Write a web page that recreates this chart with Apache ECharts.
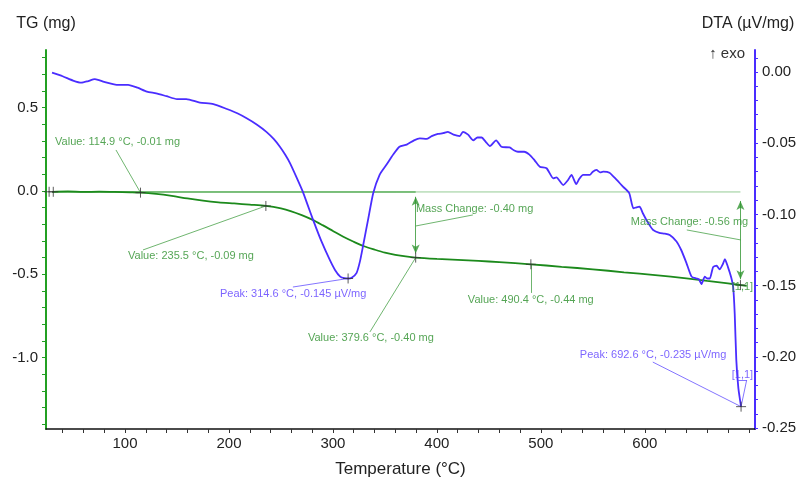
<!DOCTYPE html>
<html>
<head>
<meta charset="utf-8">
<script src="https://cdn.jsdelivr.net/npm/echarts@6/dist/echarts.min.js"></script>
<style>
  html, body { margin: 0; padding: 0; background: #fff; }
  #main { width: 798px; height: 477px; }
</style>
</head>
<body>
<div id="main"></div>
<script>
// TG 曲线 (mg)
var tgTemp = [30, 45, 60, 75, 90, 105, 114.9, 130, 145, 160, 175, 190, 205, 220, 235.5, 250, 260, 270, 280, 290, 300, 310, 320, 330, 340, 350, 360, 370, 379.6, 400, 420, 440, 460, 490.4, 520, 550, 580, 610, 640, 660, 680, 698];
var tgMass = [-0.005, -0.003, -0.006, -0.004, -0.006, -0.008, -0.01, -0.018, -0.03, -0.045, -0.058, -0.068, -0.075, -0.082, -0.09, -0.105, -0.122, -0.145, -0.172, -0.205, -0.24, -0.275, -0.305, -0.332, -0.352, -0.37, -0.383, -0.393, -0.40, -0.408, -0.414, -0.42, -0.427, -0.44, -0.455, -0.47, -0.488, -0.505, -0.525, -0.54, -0.555, -0.57];

// DTA 曲线 (µV/mg)
var dtaTemp = [29.8, 40, 50, 58, 64, 71, 80, 92, 103, 112, 121, 130, 140, 150, 159, 172, 185, 198, 208, 217, 227, 236, 243, 249, 254, 258.7, 265, 271, 276, 281, 289, 297, 302, 307, 311, 314.6, 318, 322.8, 326, 329, 334, 338.8, 345, 351.6, 358, 364, 371, 378, 383.6, 390, 395, 401, 406, 410.6, 416, 422, 425, 430, 435, 439, 443, 447, 451, 457, 462, 470, 474, 478, 484, 489, 494, 499, 505.5, 512, 515, 521.5, 526, 529.5, 534, 537, 540.7, 547, 550, 553.5, 557, 560, 566, 573, 579, 585, 589, 592, 595, 598, 601.6, 605, 608, 614, 619, 624, 630.5, 635, 640, 645, 649.7, 652, 654.5, 657.7, 660, 662.5, 665.7, 669, 672, 675, 677, 680, 683, 685, 686.5, 688, 690, 692.6];
var dtaSignal = [-0.0005, -0.003, -0.006, -0.0075, -0.0065, -0.005, -0.007, -0.009, -0.009, -0.011, -0.0138, -0.015, -0.017, -0.019, -0.019, -0.0215, -0.0225, -0.026, -0.029, -0.0325, -0.037, -0.042, -0.047, -0.0525, -0.058, -0.064, -0.074, -0.084, -0.094, -0.104, -0.119, -0.132, -0.139, -0.1437, -0.1448, -0.145, -0.1445, -0.141, -0.133, -0.122, -0.103, -0.085, -0.072, -0.065, -0.058, -0.0525, -0.051, -0.048, -0.0466, -0.047, -0.045, -0.0435, -0.043, -0.042, -0.044, -0.045, -0.042, -0.044, -0.048, -0.046, -0.046, -0.049, -0.052, -0.048, -0.0525, -0.053, -0.055, -0.056, -0.056, -0.058, -0.062, -0.0665, -0.0676, -0.0747, -0.074, -0.0794, -0.076, -0.0723, -0.0787, -0.075, -0.0723, -0.0723, -0.070, -0.0688, -0.0705, -0.070, -0.0707, -0.0758, -0.0805, -0.085, -0.0957, -0.095, -0.0946, -0.099, -0.104, -0.108, -0.111, -0.113, -0.1135, -0.1145, -0.119, -0.125, -0.134, -0.1437, -0.145, -0.1455, -0.149, -0.1437, -0.145, -0.145, -0.137, -0.136, -0.1386, -0.135, -0.1315, -0.137, -0.144, -0.151, -0.170, -0.202, -0.222, -0.235];

// 刻度
var xTicks = [40, 60, 80, 100, 120, 140, 160, 180, 200, 220, 240, 260, 280, 300, 320, 340, 360, 380, 400, 420, 440, 460, 480, 500, 520, 540, 560, 580, 600, 620, 640, 660, 680, 700];
var xLabels = [100, 200, 300, 400, 500, 600];
var tgTicks = [-1.4, -1.3, -1.2, -1.1, -1.0, -0.9, -0.8, -0.7, -0.6, -0.5, -0.4, -0.3, -0.2, -0.1, 0, 0.1, 0.2, 0.3, 0.4, 0.5, 0.6, 0.7, 0.8];
var tgLabels = [-1.0, -0.5, 0, 0.5];
var dtaTicks = [-0.25, -0.24, -0.23, -0.22, -0.21, -0.2, -0.19, -0.18, -0.17, -0.16, -0.15, -0.14, -0.13, -0.12, -0.11, -0.1, -0.09, -0.08, -0.07, -0.06, -0.05, -0.04, -0.03, -0.02, -0.01, 0, 0.01];
var dtaLabels = [-0.25, -0.2, -0.15, -0.1, -0.05, 0];

// 标注 (TG 轴)
var baseline = -0.006;
var step1End = 379.6;
var step2End = 692;
var tgNoteText = ['Value: 114.9 °C, -0.01 mg', 'Value: 235.5 °C, -0.09 mg', 'Value: 379.6 °C, -0.40 mg', 'Mass Change: -0.40 mg', 'Value: 490.4 °C, -0.44 mg', 'Mass Change: -0.56 mg', '[1,1]'];
var tgNoteAt = [[32.7, 0.294], [102.9, -0.39], [276, -0.882], [379.8, -0.108], [429.8, -0.654], [586.5, -0.186], [683.6, -0.576]];
var tgLeaders = [
  [[91.3, 0.246], [114.9, -0.01]],
  [[117.3, -0.354], [235.5, -0.09]],
  [[335.6, -0.846], [379.6, -0.40]],
  [[379.8, -0.21], [434.6, -0.144]],
  [[490.4, -0.612], [490.4, -0.44]],
  [[640.4, -0.234], [692.3, -0.294]]
];
var tgCross = [[27, -0.005], [31, -0.005], [114.9, -0.01], [235.5, -0.09], [379.6, -0.40], [490.4, -0.44], [692, -0.565]];

// 标注 (DTA 轴)
var dtaNoteText = ['Peak: 314.6 °C, -0.145 µV/mg', 'Peak: 692.6 °C, -0.235 µV/mg', '[1,1]'];
var dtaNoteAt = [[191.3, -0.1559], [537.5, -0.1987], [683.6, -0.2128]];
var dtaLeaders = [
  [[261.5, -0.151], [314.6, -0.145]],
  [[607.7, -0.2037], [692.6, -0.235]],
  [[692.6, -0.235], [698, -0.2163]],
  [[689.4, -0.2163], [698, -0.2163]]
];
var dtaCross = [[314.6, -0.145], [692.6, -0.235]];

var GREEN = '#1c8a1c';
var NOTE_GREEN = '#2a8f2a';
var BLUE = '#4a2dff';
var FONT = 'Liberation Sans';

var myChart = echarts.init(document.getElementById('main'));

function pairs(xs, ys) {
  return xs.map(function (x, i) { return [x, ys[i]]; });
}
function noteData(texts, at) {
  return texts.map(function (t, i) { return { value: at[i], name: t }; });
}
function leaderData(list) {
  return list.map(function (s) { return [{ coord: s[0] }, { coord: s[1] }]; });
}

var crossPath = 'path://M0,5L10,5M5,0L5,10';

var option = {
  animation: false,
  textStyle: { fontFamily: FONT },
  grid: { left: 46, right: 43, top: 50, bottom: 48, outerBoundsMode: 'none' },
  graphic: [{
    type: 'text',
    right: 53,
    top: 46,
    style: { text: '↑ exo', font: '15px ' + FONT, fill: '#333' }
  }],
  xAxis: {
    type: 'value',
    min: 24,
    max: 706,
    name: 'Temperature (°C)',
    nameLocation: 'middle',
    nameGap: 32,
    nameTextStyle: { fontSize: 17, color: '#222', fontFamily: FONT },
    axisLine: { onZero: false, lineStyle: { color: '#111', width: 1.5 } },
    axisTick: { customValues: xTicks, length: 4, lineStyle: { color: '#333' } },
    axisLabel: { customValues: xLabels, fontSize: 15, color: '#222', margin: 7 },
    splitLine: { show: false }
  },
  yAxis: [
    {
      type: 'value',
      position: 'left',
      min: -1.4286,
      max: 0.846,
      name: 'TG (mg)',
      nameGap: 18,
      nameTextStyle: { fontSize: 16, color: '#222', fontFamily: FONT },
      axisLine: { show: true, onZero: false, lineStyle: { color: '#23a023', width: 2 } },
      axisTick: { show: true, customValues: tgTicks, length: 4, lineStyle: { color: '#23a023' } },
      axisLabel: {
        customValues: tgLabels, fontSize: 15, color: '#222', margin: 8,
        formatter: function (v) { return v.toFixed(1); }
      },
      splitLine: { show: false }
    },
    {
      type: 'value',
      position: 'right',
      min: -0.2507,
      max: 0.01545,
      name: 'DTA (µV/mg)',
      nameGap: 18,
      nameTextStyle: { fontSize: 16, color: '#222', fontFamily: FONT, padding: [0, 14, 0, 0] },
      axisLine: { show: true, onZero: false, lineStyle: { color: BLUE, width: 2 } },
      axisTick: { show: true, customValues: dtaTicks, length: 3, lineStyle: { color: BLUE } },
      axisLabel: {
        customValues: dtaLabels, fontSize: 15, color: '#222', margin: 7,
        formatter: function (v) { return v.toFixed(2); }
      },
      splitLine: { show: false }
    }
  ],
  series: [
    // 质量变化基线
    {
      name: 'base1',
      type: 'line',
      yAxisIndex: 0,
      showSymbol: false,
      data: [[tgTemp[0], baseline], [step1End, baseline]],
      lineStyle: { color: 'rgba(60,160,60,0.55)', width: 2 },
      z: 1,
      markLine: {
        silent: true,
        symbol: 'none',
        label: { show: false },
        lineStyle: { color: 'rgba(50,150,50,0.7)', width: 1, type: 'solid' },
        data: leaderData(tgLeaders)
      }
    },
    {
      name: 'base2',
      type: 'line',
      yAxisIndex: 0,
      showSymbol: false,
      data: [[tgTemp[0], baseline], [step2End, baseline]],
      lineStyle: { color: 'rgba(60,160,60,0.55)', width: 1 },
      z: 1,
      markLine: {
        silent: true,
        symbol: ['arrow', 'arrow'],
        symbolSize: [6, 9],
        label: { show: false },
        lineStyle: { color: 'rgba(50,150,50,0.8)', width: 1, type: 'solid' },
        data: [
          [{ coord: [step1End, -0.035] }, { coord: [step1End, -0.375] }],
          [{ coord: [step2End, -0.06] }, { coord: [step2End, -0.53] }]
        ]
      }
    },
    // TG
    {
      name: 'TG',
      type: 'line',
      yAxisIndex: 0,
      smooth: 0.3,
      showSymbol: false,
      data: pairs(tgTemp, tgMass),
      lineStyle: { color: GREEN, width: 1.8 },
      z: 3
    },
    // DTA
    {
      name: 'DTA',
      type: 'line',
      yAxisIndex: 1,
      smooth: 0.2,
      showSymbol: false,
      data: pairs(dtaTemp, dtaSignal),
      lineStyle: { color: BLUE, width: 1.8 },
      z: 3,
      markLine: {
        silent: true,
        symbol: 'none',
        label: { show: false },
        lineStyle: { color: 'rgba(90,70,255,0.75)', width: 1, type: 'solid' },
        data: leaderData(dtaLeaders)
      }
    },
    // 十字标记
    {
      type: 'scatter',
      yAxisIndex: 0,
      symbol: crossPath,
      symbolSize: 10,
      itemStyle: { color: 'none', borderColor: '#333', borderWidth: 1 },
      data: tgCross,
      z: 5
    },
    {
      type: 'scatter',
      yAxisIndex: 1,
      symbol: crossPath,
      symbolSize: 10,
      itemStyle: { color: 'none', borderColor: '#333', borderWidth: 1 },
      data: dtaCross,
      z: 5
    },
    // 文本标注
    {
      type: 'scatter',
      yAxisIndex: 0,
      symbolSize: 0,
      data: noteData(tgNoteText, tgNoteAt),
      label: {
        show: true,
        position: 'right',
        distance: 0,
        color: NOTE_GREEN,
        fontSize: 11,
        formatter: function (p) { return p.name; }
      },
      z: 6
    },
    {
      type: 'scatter',
      yAxisIndex: 1,
      symbolSize: 0,
      data: noteData(dtaNoteText, dtaNoteAt),
      label: {
        show: true,
        position: 'right',
        distance: 0,
        color: '#5a3cff',
        fontSize: 11,
        formatter: function (p) { return p.name; }
      },
      z: 6
    }
  ]
};

myChart.setOption(option);
</script>
</body>
</html>
